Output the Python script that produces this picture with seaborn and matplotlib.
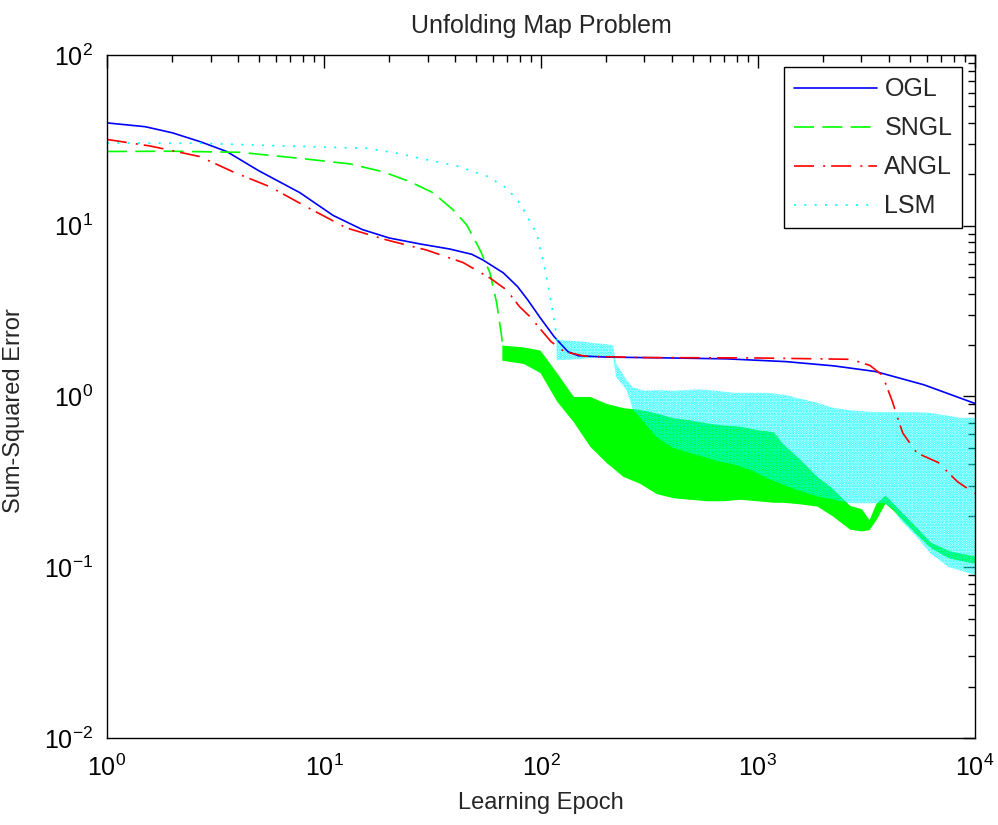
import numpy as np
import pandas as pd
import seaborn as sns
import matplotlib
matplotlib.use("Agg")
import matplotlib.pyplot as plt
from matplotlib.ticker import LogLocator, NullFormatter

# smooth parts of the four learning curves (epoch, sum-squared error)
ogl_epoch = [1, 1.5, 2.0, 2.7, 3.56, 5, 7.75, 11, 15, 20, 28, 38, 48, 54, 67, 78, 87, 99,
             115, 133, 149, 200, 400, 719, 1343, 2240, 3478, 5820, 10000]
ogl_sse = [40, 38, 35, 31, 27.2, 21, 15.6, 11.5, 9.5, 8.47, 7.8, 7.3, 6.8, 6.3, 5.3, 4.4, 3.67, 2.9,
           2.24, 1.83, 1.73, 1.7, 1.68, 1.66, 1.6, 1.51, 1.40, 1.17, 0.91]

sngl_epoch = [1, 2, 4.1, 7.75, 13.2, 18.7, 24.9, 31.8, 39.3, 45.5, 52.4, 58.2, 62.5, 65.9, 66.5]
sngl_sse = [27.2, 27.3, 26.9, 24.8, 23, 20.7, 18.1, 15.6, 12.4, 10.1, 7.2, 5.3, 3.53, 2.24, 2.0]

angl_epoch = [1, 1.58, 2.68, 3.8, 5.64, 8.3, 12.7, 19.4, 29.7, 43.8, 58.2, 69.5, 79.6, 89, 111,
              128, 160, 300, 1000, 2680, 3280, 3748, 4170, 4330, 4650, 5400, 6780, 8300, 10000]
angl_sse = [32, 29.3, 25.4, 20.7, 16.9, 12.9, 9.7, 8.26, 7.2, 6.08, 4.94, 4.2, 3.36, 2.93, 2.1,
            1.83, 1.72, 1.69, 1.68, 1.65, 1.52, 1.33, 0.93, 0.80, 0.61, 0.467, 0.41, 0.317, 0.27]

lsm_epoch = [1, 2.68, 6.7, 15.7, 22, 27.7, 40.9, 57, 70, 80, 95.5, 103, 109.6, 115.5, 120]
lsm_sse = [30.5, 30.4, 29.3, 28.4, 26.5, 24.8, 22.4, 19.4, 16.5, 13.5, 9.0, 6.0, 4.0, 2.7, 2.0]

# oscillating parts, read as upper / lower envelopes
sngl_band_epoch = [66, 83, 99, 118, 141, 168, 200, 239, 285, 340, 406, 485, 580, 692, 826, 987,
                   1180, 1300, 1560, 1870, 2200, 2650, 3000, 3250, 3500, 3850, 4200, 5400, 6250,
                   7600, 9400, 10000]
sngl_band_hi = [2.0, 1.95, 1.87, 1.38, 1.0, 1.0, 0.91, 0.86, 0.84, 0.80, 0.75, 0.73, 0.70, 0.68,
                0.67, 0.64, 0.62, 0.53, 0.43, 0.34, 0.29, 0.23, 0.22, 0.19, 0.237, 0.265, 0.237,
                0.17, 0.14, 0.125, 0.118, 0.117]
sngl_band_lo = [1.63, 1.56, 1.38, 0.94, 0.71, 0.51, 0.41, 0.34, 0.31, 0.27, 0.255, 0.25, 0.245,
                0.245, 0.25, 0.245, 0.24, 0.24, 0.235, 0.228, 0.2, 0.167, 0.163, 0.166, 0.19,
                0.237, 0.215, 0.155, 0.13, 0.113, 0.107, 0.106]

lsm_band_epoch = [118, 150, 180, 215, 222, 248, 265, 300, 340, 406, 536, 643, 773, 928, 1115,
                  1340, 1560, 1870, 2200, 2650, 3000, 3500, 3850, 4200, 4520, 5400, 6250, 7600,
                  8500, 10000]
lsm_band_hi = [2.15, 2.1, 2.05, 2.0, 1.56, 1.25, 1.13, 1.08, 1.09, 1.08, 1.1, 1.08, 1.05, 1.05,
               1.05, 1.02, 0.97, 0.92, 0.86, 0.83, 0.82, 0.81, 0.81, 0.81, 0.81, 0.81, 0.8, 0.77,
               0.75, 0.75]
lsm_band_lo = [1.63, 1.65, 1.7, 1.7, 1.3, 1.09, 0.84, 0.7, 0.58, 0.5, 0.45, 0.42, 0.4, 0.37, 0.33,
               0.3, 0.28, 0.26, 0.25, 0.237, 0.237, 0.237, 0.237, 0.22, 0.19, 0.15, 0.12, 0.1,
               0.096, 0.09]

sns.set_style("white")
plt.rcParams["font.family"] = ["Liberation Sans", "DejaVu Sans"]
plt.rcParams["mathtext.default"] = "regular"
plt.rcParams["hatch.linewidth"] = 1.5

fig = plt.figure(figsize=(9.98, 8.25), dpi=100)
ax = fig.add_axes([0.1072, 0.1055, 0.8697, 0.8279])

lw = 1.2
sns.lineplot(x=ogl_epoch, y=ogl_sse, ax=ax, color="#0000ff", lw=lw, label="OGL")
sns.lineplot(x=sngl_epoch, y=sngl_sse, ax=ax, color="#00ff00", lw=lw, label="SNGL").lines[-1].set_dashes((12, 5))
ax.fill_between(sngl_band_epoch, sngl_band_lo, sngl_band_hi, facecolor="#00ff00", lw=0)
sns.lineplot(x=angl_epoch, y=angl_sse, ax=ax, color="#ff0000", lw=lw, label="ANGL").lines[-1].set_dashes((12, 5.5, 1.2, 3.6))
sns.lineplot(x=lsm_epoch, y=lsm_sse, ax=ax, color="#00ffff", lw=lw, label="LSM").lines[-1].set_dashes((1.2, 5))
ax.fill_between(lsm_band_epoch, lsm_band_lo, lsm_band_hi, facecolor="none", edgecolor="#00ffff",
                hatch="......", lw=0)

ax.set_xscale("log")
ax.set_yscale("log")
ax.set_xlim(1, 1e4)
ax.set_ylim(1e-2, 1e2)
ax.xaxis.set_major_locator(LogLocator(base=10, numticks=10))
ax.yaxis.set_major_locator(LogLocator(base=10, numticks=10))
ax.xaxis.set_minor_locator(LogLocator(base=10, subs=np.arange(2, 10), numticks=20))
ax.yaxis.set_minor_locator(LogLocator(base=10, subs=np.arange(2, 10), numticks=20))
ax.xaxis.set_minor_formatter(NullFormatter())
ax.yaxis.set_minor_formatter(NullFormatter())
ax.tick_params(which="both", direction="in", top=True, right=True, colors="black",
               labelsize=18, width=1)
ax.tick_params(which="major", length=9)
ax.tick_params(axis="x", which="major", pad=12)
ax.tick_params(axis="y", which="major", pad=10)
ax.tick_params(which="minor", length=5)
for s in ax.spines.values():
    s.set_color("black")
    s.set_linewidth(1)

ax.set_title("Unfolding Map Problem", fontsize=18, pad=16)
ax.set_xlabel("Learning Epoch", fontsize=17, labelpad=8)
ax.set_ylabel("Sum-Squared Error", fontsize=17)
ax.yaxis.set_label_coords(-0.094, 0.479)

leg = ax.legend(loc="upper right", fontsize=18, frameon=True, fancybox=False, framealpha=1,
                edgecolor="black", handlelength=3.3, handletextpad=0.3, borderaxespad=0.5,
                labelspacing=0.6)
leg.get_frame().set_linewidth(1)

fig.savefig("out.png", dpi=100)
